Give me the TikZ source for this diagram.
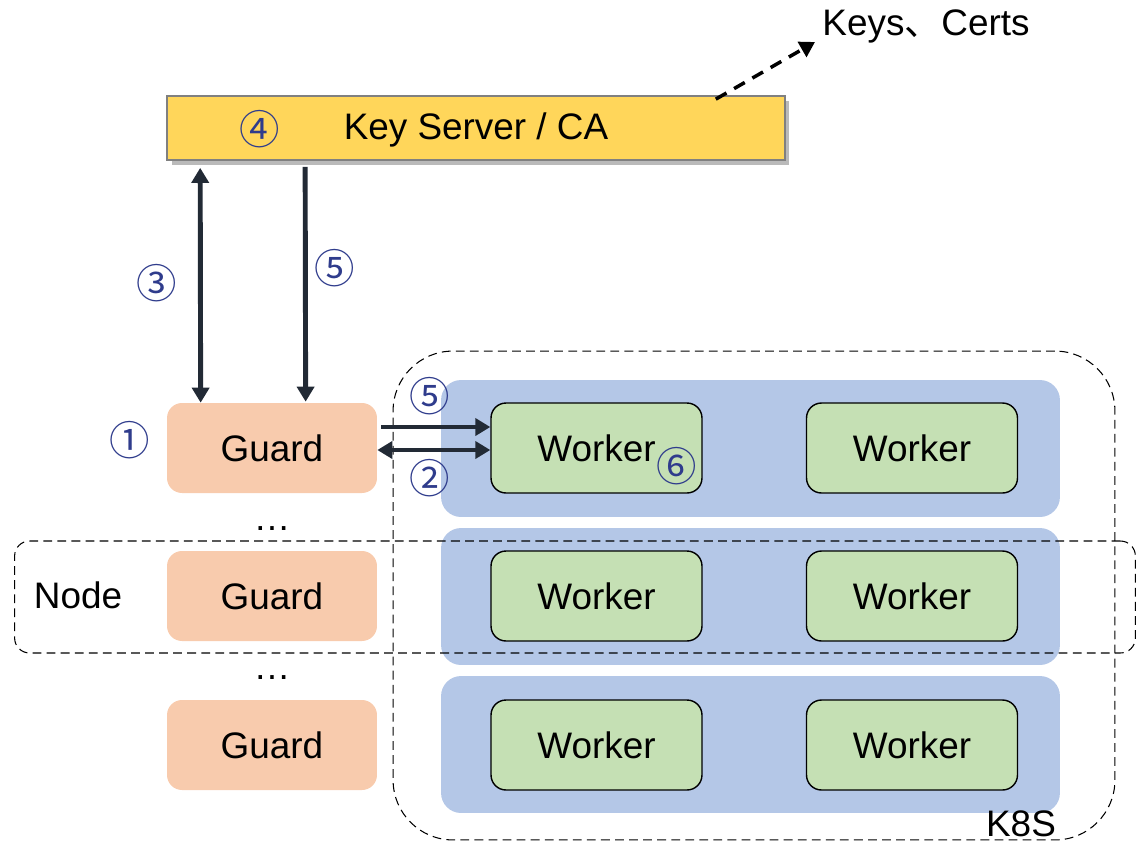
\documentclass[tikz,border=0pt]{standalone}
\usepackage{fontspec}
\setmainfont{Liberation Sans}
\newfontfamily\cjk{Noto Sans CJK SC}
\usepackage{tikz}
\usetikzlibrary{arrows.meta,shadows}
\definecolor{serverc}{RGB}{255,214,90}
\definecolor{guardc}{RGB}{248,203,173}
\definecolor{podc}{RGB}{180,199,231}
\definecolor{workerc}{RGB}{197,224,180}
\definecolor{linkc}{RGB}{34,42,53}
\definecolor{stepc}{RGB}{47,60,140}

\begin{document}
\begin{tikzpicture}[
    x=0.02cm, y=-0.02cm,
    >={Triangle[length=0.3cm, width=0.34cm]},
    every node/.style={font=\fontsize{21}{25}\selectfont},
    server/.style={rectangle, draw=black!50, line width=1pt, fill=serverc, minimum width=12.36cm, minimum height=1.28cm, drop shadow={shadow xshift=0.09cm, shadow yshift=-0.09cm, fill=black!45, opacity=0.6}},
    guard/.style={rectangle, rounded corners=0.3cm, fill=guardc, minimum width=4.2cm, minimum height=1.8cm},
    pod/.style={rectangle, rounded corners=0.4cm, fill=podc, minimum width=12.38cm, minimum height=2.74cm},
    worker/.style={rectangle, rounded corners=0.3cm, draw=black, line width=0.8pt, fill=workerc, minimum width=4.22cm, minimum height=1.8cm},
    group/.style={rectangle, draw=black, line width=0.6pt, dash pattern=on 5pt off 3pt},
    stepnum/.style={text=stepc, font=\cjk\fontsize{23}{25}\selectfont, inner sep=0pt},
    arrow/.style={->, line width=2.8pt, draw=linkc},
    keyarrow/.style={->, line width=2pt, draw=black, dash pattern=on 7pt off 5pt}
]
\useasboundingbox (0,0) rectangle (1137,843);

% Key server
\node[server] (ks) at (476,128) {};
\node (kslabel) at (476,130) {Key Server / CA};
\node (keys) at (926,26) {Keys{\cjk 、}Certs};
\coordinate (ktip) at (815,42);

% Guards
\node[guard] (g1) at (272,448) {Guard};
\node[guard] (g2) at (272,596) {Guard};
\node[guard] (g3) at (272,745) {Guard};
\node[anchor=base] (dots1) at (272,530) {…};
\node[anchor=base] (dots2) at (272,679) {…};

% Pods
\node[pod] (pod1) at (750.5,448.5) {};
\node[pod] (pod2) at (750.5,596.5) {};
\node[pod] (pod3) at (750.5,744.5) {};

% Workers
\node[worker] (w11) at (596.5,448) {Worker};
\node[worker] (w12) at (912,448) {Worker};
\node[worker] (w21) at (596.5,596) {Worker};
\node[worker] (w22) at (912,596) {Worker};
\node[worker] (w31) at (596.5,745) {Worker};
\node[worker] (w32) at (912,745) {Worker};

% Node and cluster boundaries
\node[group, rounded corners=1.2cm, minimum width=14.44cm, minimum height=9.78cm] (k8s) at (754,595.5) {};
\node[group, rounded corners=0.3cm, minimum width=22.42cm, minimum height=2.24cm] (nodebox) at (575,597) {};
\node (nodelabel) at (78,595) {Node};
\node[anchor=base, inner sep=0pt] (k8slabel) at (1021,836) {K8S};

% Arrows
\draw[keyarrow] ([xshift=-1.4cm, yshift=-0.08cm]ks.north east) -- (ktip);
\draw[arrow, <->] ([xshift=0.68cm, yshift=-0.14cm]ks.south west) -- ([xshift=0.68cm]g1.north west);
\draw[arrow] ([xshift=2.78cm, yshift=-0.12cm]ks.south west) -- ([xshift=2.78cm, yshift=0.02cm]g1.north west);
\draw[arrow] ([xshift=0.08cm, yshift=0.42cm]g1.east) -- ([yshift=0.42cm]w11.west);
\draw[arrow, <->] ([yshift=-0.04cm]g1.east) -- ([yshift=-0.04cm]w11.west);

% Steps
\node[stepnum] (s1) at (130,440) {①};
\node[stepnum] (s2) at (430,478) {②};
\node[stepnum] (s3) at (157,283) {③};
\node[stepnum] (s4) at (260,129) {④};
\node[stepnum] (s5a) at (335,268) {⑤};
\node[stepnum] (s5b) at (430,396) {⑤};
\node[stepnum] (s6) at (677,466) {⑥};

\end{tikzpicture}
\end{document}
